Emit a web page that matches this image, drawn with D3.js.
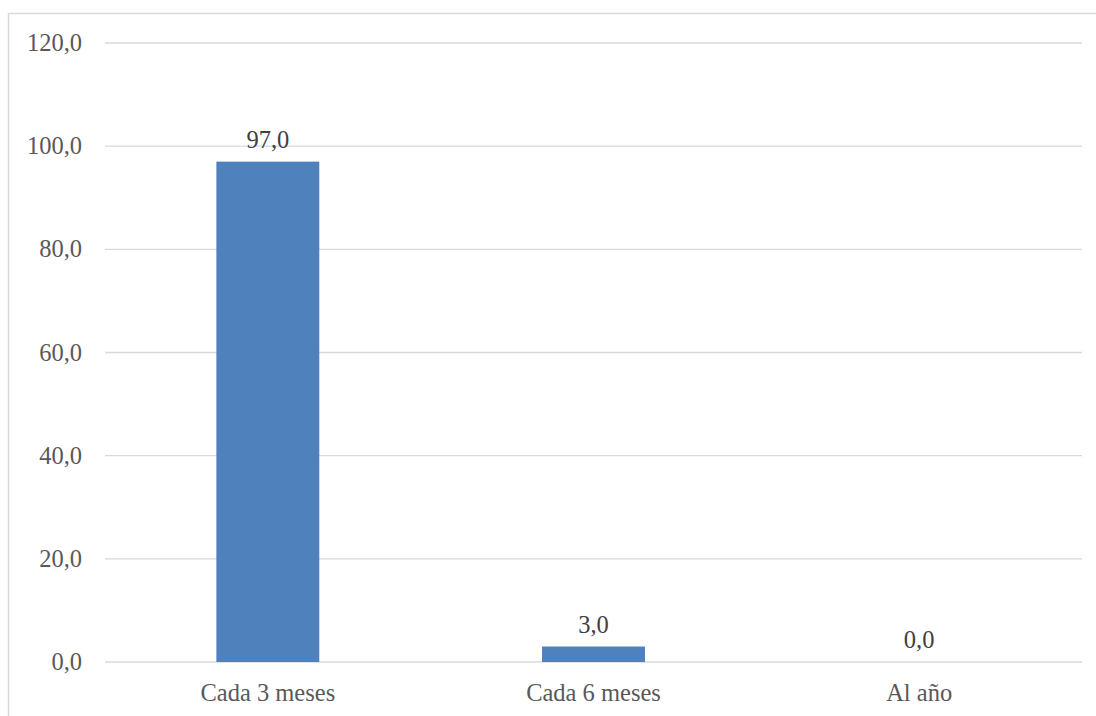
<!DOCTYPE html>
<html><head><meta charset="utf-8">
<script src="https://cdn.jsdelivr.net/npm/d3@7"></script>
<style>body{margin:0;background:#fff}svg{display:block}</style>
</head><body>
<script>
const categories = ["Cada 3 meses", "Cada 6 meses", "Al año"];
const values = [97.0, 3.0, 0.0];
const yTicks = [0, 20, 40, 60, 80, 100, 120];

const W = 1096, H = 716;
const m = {left: 105, right: 14, top: 43, bottom: 54};
const svg = d3.select("body").append("svg").attr("width", W).attr("height", H);
const font = "'Liberation Serif', serif";
const fs = 24.5;
const fmt = v => v.toFixed(1).replace(".", ",");

svg.append("rect").attr("x", 8.5).attr("y", 13.5).attr("width", W).attr("height", H)
  .attr("fill", "none").attr("stroke", "#d9d9d9").attr("stroke-width", 1.5);

const x = d3.scaleBand().domain(categories).range([m.left, W - m.right]).paddingInner(0.684).paddingOuter(0.342);
const y = d3.scaleLinear().domain([0, 120]).range([H - m.bottom, m.top]);

const g = svg.append("g");
g.selectAll("line.grid").data(yTicks).join("line")
  .attr("x1", m.left).attr("x2", W - m.right)
  .attr("y1", d => y(d)).attr("y2", d => y(d))
  .attr("stroke", "#d9d9d9").attr("stroke-width", 1.3);

g.selectAll("text.yt").data(yTicks).join("text")
  .attr("x", 82).attr("y", d => y(d)).attr("dy", "0.33em")
  .attr("text-anchor", "end").attr("font-family", font).attr("font-size", fs)
  .attr("fill", "#595959").text(d => fmt(d));

g.selectAll("rect.bar").data(values).join("rect")
  .attr("x", (d, i) => x(categories[i])).attr("width", x.bandwidth())
  .attr("y", d => y(d)).attr("height", d => y(0) - y(d))
  .attr("fill", "#4f81bd");

g.selectAll("text.lbl").data(values).join("text")
  .attr("x", (d, i) => x(categories[i]) + x.bandwidth() / 2)
  .attr("y", d => y(d) - 14)
  .attr("text-anchor", "middle").attr("font-family", font).attr("font-size", fs)
  .attr("fill", "#404040").text(d => fmt(d));

g.selectAll("text.cat").data(categories).join("text")
  .attr("x", d => x(d) + x.bandwidth() / 2).attr("y", H - m.bottom + 39)
  .attr("text-anchor", "middle").attr("font-family", font).attr("font-size", fs)
  .attr("fill", "#595959").text(d => d);
</script>
</body></html>
